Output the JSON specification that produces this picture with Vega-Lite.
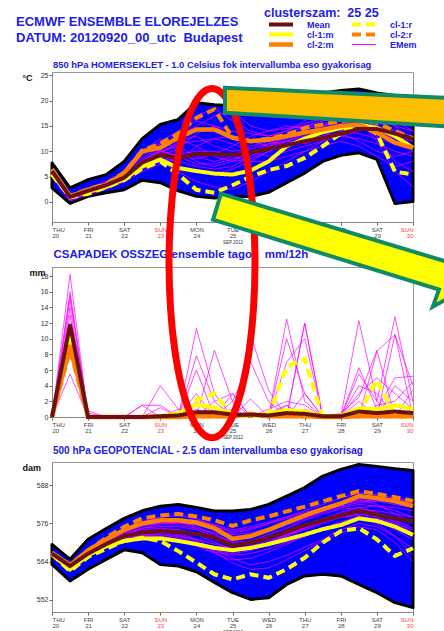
{
  "$schema": "https://vega.github.io/schema/vega-lite/v6.json",
  "padding": {"left": 16, "top": 7, "right": 0, "bottom": 0},
  "background": "white",
  "bounds": "flush",
  "spacing": 45,
  "config": {
    "font": "Liberation Sans",
    "view": {"stroke": "#999", "strokeWidth": 1},
    "axis": {"grid": false, "domainColor": "#888", "tickColor": "#666", "labelColor": "#333", "labelOverlap": false},
    "axisY": {"labelFontSize": 7, "tickSize": 3, "labelPadding": 1, "titleAngle": 0, "titleAlign": "left", "titleBaseline": "top", "titleFontSize": 9, "titleFontWeight": "bold", "titleColor": "#111", "titleX": -30, "titleY": 1},
    "axisX": {"labelFontSize": 6, "tickSize": 3, "labelPadding": 1, "labelLineHeight": 6.5, "titleFontSize": 4.5, "titleFontWeight": "normal", "titleColor": "#333", "titlePadding": 1},
    "title": {"anchor": "start", "color": "#2020e6", "fontWeight": "bold", "font": "Liberation Sans", "frame": "group"}
  },
  "title": {"text": "ECMWF ENSEMBLE ELOREJELZES", "subtitle": "DATUM: 20120920_00_utc\u00a0 Budapest", "anchor": "start", "frame": "group", "dx": -36, "fontSize": 13, "subtitleFontSize": 13, "subtitleColor": "#2020e6", "subtitleFontWeight": "bold", "subtitleFont": "Liberation Sans", "subtitlePadding": 3, "offset": -38},
  "datasets": {
    "d": [
      {"p":"T","t":0,"hi":7.7,"lo":2.8,"Mean":6.1,"cl-1:m":5.5,"cl-2:m":6.4,"cl-1:r":5.4,"cl-2:r":6.5,"m1":6.0,"m2":5.0,"m3":5.5,"m4":6.5,"m5":5.0,"m6":6.0,"m7":5.8,"m8":6.2,"m9":5.2,"m10":6.3,"m11":5.7,"m12":6.1,"m13":5.3,"m14":6.4,"m15":5.6,"m16":5.9},
      {"p":"T","t":0.5,"hi":2.8,"lo":-0.3,"Mean":1.0,"cl-1:m":1.2,"cl-2:m":1.1,"cl-1:r":0.9,"cl-2:r":1.2,"m1":0.8,"m2":0.5,"m3":1.0,"m4":1.3,"m5":0.2,"m6":1.0,"m7":0.7,"m8":1.2,"m9":0.4,"m10":0.9,"m11":0.6,"m12":1.1,"m13":0.5,"m14":1.2,"m15":0.8,"m16":0.9},
      {"p":"T","t":1,"hi":4.4,"lo":1.1,"Mean":2.2,"cl-1:m":2.0,"cl-2:m":2.4,"cl-1:r":1.6,"cl-2:r":2.5,"m1":2.0,"m2":1.8,"m3":2.2,"m4":2.6,"m5":1.5,"m6":2.4,"m7":2.0,"m8":2.8,"m9":1.6,"m10":2.1,"m11":1.9,"m12":2.3,"m13":1.7,"m14":2.5,"m15":2.0,"m16":2.2},
      {"p":"T","t":1.5,"hi":5.4,"lo":1.8,"Mean":3.3,"cl-1:m":3.0,"cl-2:m":3.4,"cl-1:r":2.9,"cl-2:r":3.6,"m1":3.0,"m2":2.8,"m3":3.3,"m4":3.8,"m5":2.5,"m6":3.5,"m7":3.2,"m8":4.0,"m9":2.6,"m10":3.1,"m11":3.0,"m12":3.4,"m13":2.7,"m14":3.7,"m15":3.1,"m16":3.2},
      {"p":"T","t":2,"hi":8.0,"lo":2.4,"Mean":4.8,"cl-1:m":4.5,"cl-2:m":5.7,"cl-1:r":4.3,"cl-2:r":5.8,"m1":5.0,"m2":4.2,"m3":5.0,"m4":5.5,"m5":4.0,"m6":5.2,"m7":4.8,"m8":5.8,"m9":4.0,"m10":4.9,"m11":4.6,"m12":5.1,"m13":4.4,"m14":5.6,"m15":4.7,"m16":4.9},
      {"p":"T","t":2.5,"hi":12.5,"lo":4.3,"Mean":7.8,"cl-1:m":7.0,"cl-2:m":10.0,"cl-1:r":6.6,"cl-2:r":10.2,"m1":8.5,"m2":6.5,"m3":8.0,"m4":9.0,"m5":6.0,"m6":7.5,"m7":7.0,"m8":10.0,"m9":7.0,"m10":8.0,"m11":7.2,"m12":8.2,"m13":6.8,"m14":9.5,"m15":7.5,"m16":7.8},
      {"p":"T","t":3,"hi":15.3,"lo":3.8,"Mean":9.3,"cl-1:m":8.4,"cl-2:m":10.7,"cl-1:r":8.0,"cl-2:r":11.5,"m1":11.0,"m2":8.0,"m3":10.0,"m4":12.0,"m5":7.5,"m6":9.0,"m7":9.5,"m8":12.5,"m9":9.0,"m10":10.5,"m11":9.8,"m12":10.2,"m13":8.5,"m14":11.5,"m15":9.2,"m16":10.0},
      {"p":"T","t":3.5,"hi":16.3,"lo":2.2,"Mean":8.6,"cl-1:m":6.7,"cl-2:m":12.7,"cl-1:r":5.4,"cl-2:r":13.5,"m1":13.0,"m2":6.0,"m3":11.0,"m4":14.0,"m5":7.0,"m6":8.0,"m7":12.0,"m8":10.0,"m9":9.5,"m10":13.0,"m11":11.5,"m12":9.0,"m13":8.0,"m14":12.5,"m15":10.5,"m16":9.0},
      {"p":"T","t":4,"hi":19.6,"lo":1.1,"Mean":9.5,"cl-1:m":6.1,"cl-2:m":14.3,"cl-1:r":2.4,"cl-2:r":16.6,"m1":15.0,"m2":4.0,"m3":9.0,"m4":16.0,"m5":6.0,"m6":7.0,"m7":13.0,"m8":8.0,"m9":10.0,"m10":17.0,"m11":12.0,"m12":8.5,"m13":11.0,"m14":11.0,"m15":13.5,"m16":7.5},
      {"p":"T","t":4.5,"hi":19.2,"lo":0.8,"Mean":9.4,"cl-1:m":5.6,"cl-2:m":14.3,"cl-1:r":1.8,"cl-2:r":18.3,"m1":17.0,"m2":3.0,"m3":8.0,"m4":15.0,"m5":5.5,"m6":6.5,"m7":11.0,"m8":7.0,"m9":10.0,"m10":18.5,"m11":12.5,"m12":9.5,"m13":12.5,"m14":9.0,"m15":15.0,"m16":7.5},
      {"p":"T","t":5,"hi":19.0,"lo":1.1,"Mean":9.3,"cl-1:m":5.4,"cl-2:m":12.7,"cl-1:r":3.3,"cl-2:r":12.7,"m1":18.0,"m2":2.5,"m3":9.0,"m4":13.0,"m5":6.5,"m6":7.0,"m7":10.0,"m8":8.0,"m9":9.0,"m10":16.0,"m11":13.0,"m12":11.0,"m13":11.5,"m14":8.0,"m15":14.0,"m16":8.5},
      {"p":"T","t":5.5,"hi":19.5,"lo":1.1,"Mean":9.8,"cl-1:m":6.2,"cl-2:m":12.0,"cl-1:r":5.0,"cl-2:r":12.0,"m1":15.0,"m2":4.0,"m3":11.0,"m4":12.0,"m5":8.0,"m6":9.0,"m7":10.5,"m8":10.0,"m9":8.0,"m10":14.0,"m11":12.0,"m12":13.0,"m13":10.0,"m14":8.5,"m15":13.5,"m16":9.5},
      {"p":"T","t":6,"hi":20.0,"lo":1.9,"Mean":10.5,"cl-1:m":8.0,"cl-2:m":12.3,"cl-1:r":6.3,"cl-2:r":12.5,"m1":14.0,"m2":6.0,"m3":12.0,"m4":12.5,"m5":10.0,"m6":11.0,"m7":11.5,"m8":9.0,"m9":8.0,"m10":13.0,"m11":11.0,"m12":14.0,"m13":10.5,"m14":10.0,"m15":13.0,"m16":11.5},
      {"p":"T","t":6.5,"hi":20.5,"lo":3.8,"Mean":11.2,"cl-1:m":11.0,"cl-2:m":13.0,"cl-1:r":7.1,"cl-2:r":13.3,"m1":14.5,"m2":8.0,"m3":11.0,"m4":13.0,"m5":11.0,"m6":13.0,"m7":12.5,"m8":10.0,"m9":9.0,"m10":14.0,"m11":12.0,"m12":15.0,"m13":11.5,"m14":12.0,"m15":14.0,"m16":12.0},
      {"p":"T","t":7,"hi":21.0,"lo":5.7,"Mean":12.0,"cl-1:m":12.5,"cl-2:m":13.7,"cl-1:r":8.7,"cl-2:r":14.6,"m1":15.0,"m2":10.0,"m3":12.0,"m4":14.0,"m5":12.5,"m6":15.0,"m7":13.5,"m8":11.0,"m9":10.0,"m10":16.0,"m11":13.5,"m12":14.5,"m13":12.0,"m14":13.0,"m15":15.5,"m16":11.5},
      {"p":"T","t":7.5,"hi":21.5,"lo":8.0,"Mean":12.6,"cl-1:m":13.8,"cl-2:m":14.3,"cl-1:r":11.0,"cl-2:r":15.3,"m1":15.5,"m2":12.0,"m3":14.0,"m4":13.5,"m5":13.0,"m6":16.0,"m7":15.0,"m8":12.0,"m9":11.0,"m10":18.0,"m11":14.5,"m12":15.0,"m13":13.0,"m14":13.5,"m15":16.5,"m16":12.5},
      {"p":"T","t":8,"hi":22.0,"lo":9.2,"Mean":13.5,"cl-1:m":14.6,"cl-2:m":15.0,"cl-1:r":13.5,"cl-2:r":16.0,"m1":16.0,"m2":14.0,"m3":15.0,"m4":14.5,"m5":13.5,"m6":17.0,"m7":16.5,"m8":13.0,"m9":12.0,"m10":19.0,"m11":15.5,"m12":16.0,"m13":14.5,"m14":13.0,"m15":17.5,"m16":14.0},
      {"p":"T","t":8.5,"hi":22.3,"lo":9.7,"Mean":14.4,"cl-1:m":15.3,"cl-2:m":15.3,"cl-1:r":15.5,"cl-2:r":16.2,"m1":17.0,"m2":15.0,"m3":16.0,"m4":15.0,"m5":12.0,"m6":16.0,"m7":18.0,"m8":14.0,"m9":11.0,"m10":20.0,"m11":16.5,"m12":15.0,"m13":15.5,"m14":12.5,"m15":18.5,"m16":13.5},
      {"p":"T","t":9,"hi":21.5,"lo":8.4,"Mean":14.4,"cl-1:m":14.6,"cl-2:m":13.7,"cl-1:r":13.5,"cl-2:r":15.6,"m1":16.5,"m2":13.0,"m3":15.0,"m4":17.0,"m5":10.0,"m6":12.0,"m7":19.0,"m8":15.0,"m9":9.0,"m10":18.0,"m11":17.0,"m12":14.0,"m13":16.0,"m14":11.5,"m15":18.0,"m16":12.5},
      {"p":"T","t":9.5,"hi":21.0,"lo":-0.3,"Mean":13.5,"cl-1:m":13.0,"cl-2:m":11.7,"cl-1:r":6.0,"cl-2:r":14.0,"m1":15.0,"m2":8.0,"m3":13.0,"m4":18.0,"m5":9.0,"m6":6.0,"m7":17.0,"m8":14.0,"m9":7.0,"m10":16.0,"m11":16.0,"m12":12.5,"m13":17.5,"m14":10.0,"m15":15.0,"m16":11.5},
      {"p":"T","t":10,"hi":20.5,"lo":0.1,"Mean":12.4,"cl-1:m":10.7,"cl-2:m":10.7,"cl-1:r":5.4,"cl-2:r":12.5,"m1":14.0,"m2":6.0,"m3":12.0,"m4":16.0,"m5":10.0,"m6":3.0,"m7":15.0,"m8":13.0,"m9":8.0,"m10":14.0,"m11":15.5,"m12":11.0,"m13":17.0,"m14":9.0,"m15":12.0,"m16":10.0},

      {"p":"P","t":0,"Mean":0,"cl-1:m":0,"cl-2:m":0,"cl-1:r":0,"cl-2:r":0,"m1":0,"m2":0,"m3":0,"m4":0,"m5":0,"m6":0,"m7":0,"m8":0,"m9":0,"m10":0},
      {"p":"P","t":0.5,"Mean":11.8,"cl-1:m":11.0,"cl-2:m":9.2,"cl-1:r":10.5,"cl-2:r":8.5,"m1":18.2,"m2":16.0,"m3":15.0,"m4":14.0,"m5":12.0,"m6":10.0,"m7":8.0,"m8":5.5,"m9":13.0,"m10":15.5},
      {"p":"P","t":1,"Mean":0,"cl-1:m":0,"cl-2:m":0,"cl-1:r":0,"cl-2:r":0,"m1":0,"m2":0,"m3":0.8,"m4":0,"m5":0,"m6":0.5,"m7":0,"m8":0,"m9":0,"m10":0},
      {"p":"P","t":1.5,"Mean":0,"cl-1:m":0,"cl-2:m":0,"cl-1:r":0,"cl-2:r":0,"m1":0,"m2":0,"m3":0,"m4":0,"m5":0,"m6":0,"m7":0,"m8":0,"m9":0,"m10":0},
      {"p":"P","t":2,"Mean":0,"cl-1:m":0,"cl-2:m":0,"cl-1:r":0,"cl-2:r":0,"m1":0,"m2":0,"m3":0,"m4":0,"m5":0,"m6":0,"m7":0,"m8":0,"m9":0,"m10":0},
      {"p":"P","t":2.5,"Mean":0,"cl-1:m":0,"cl-2:m":0,"cl-1:r":0,"cl-2:r":0,"m1":0,"m2":0,"m3":0,"m4":1.5,"m5":0,"m6":0,"m7":0,"m8":0,"m9":1.5,"m10":0},
      {"p":"P","t":3,"Mean":0.1,"cl-1:m":0.1,"cl-2:m":0,"cl-1:r":0,"cl-2:r":0,"m1":0,"m2":0,"m3":4.0,"m4":1.5,"m5":0,"m6":1.2,"m7":0,"m8":0,"m9":0,"m10":0},
      {"p":"P","t":3.5,"Mean":0.2,"cl-1:m":0.5,"cl-2:m":0,"cl-1:r":0.3,"cl-2:r":0,"m1":0,"m2":0,"m3":1.0,"m4":0,"m5":0,"m6":0,"m7":0,"m8":1.0,"m9":0,"m10":0},
      {"p":"P","t":4,"Mean":0.6,"cl-1:m":1.6,"cl-2:m":0.1,"cl-1:r":2.2,"cl-2:r":0.1,"m1":11.3,"m2":7.8,"m3":0,"m4":2.0,"m5":1.0,"m6":3.0,"m7":0,"m8":0.5,"m9":0,"m10":6.0},
      {"p":"P","t":4.5,"Mean":0.6,"cl-1:m":1.2,"cl-2:m":0.1,"cl-1:r":3.0,"cl-2:r":0.1,"m1":3.0,"m2":2.0,"m3":8.5,"m4":0,"m5":0,"m6":0,"m7":2.0,"m8":0,"m9":0,"m10":0},
      {"p":"P","t":5,"Mean":0.3,"cl-1:m":0.3,"cl-2:m":0.1,"cl-1:r":0.2,"cl-2:r":0.1,"m1":0,"m2":0,"m3":2.0,"m4":3.0,"m5":2.0,"m6":0,"m7":3.0,"m8":0.5,"m9":0,"m10":1.0},
      {"p":"P","t":5.5,"Mean":0.3,"cl-1:m":0.2,"cl-2:m":0.4,"cl-1:r":0.1,"cl-2:r":0.3,"m1":0,"m2":10.5,"m3":0,"m4":0,"m5":7.0,"m6":0,"m7":0,"m8":0,"m9":2.3,"m10":0},
      {"p":"P","t":6,"Mean":0.2,"cl-1:m":0.4,"cl-2:m":0.1,"cl-1:r":0.2,"cl-2:r":0.1,"m1":0,"m2":3.4,"m3":0,"m4":0,"m5":2.0,"m6":1.0,"m7":0.5,"m8":0,"m9":0,"m10":0},
      {"p":"P","t":6.5,"Mean":0.5,"cl-1:m":0.9,"cl-2:m":0.1,"cl-1:r":6.4,"cl-2:r":0.1,"m1":12.5,"m2":0,"m3":10.0,"m4":7.0,"m5":0,"m6":2.0,"m7":1.5,"m8":0,"m9":1.5,"m10":0},
      {"p":"P","t":7,"Mean":0.4,"cl-1:m":0.7,"cl-2:m":0.1,"cl-1:r":7.4,"cl-2:r":0.1,"m1":2.0,"m2":12.0,"m3":3.0,"m4":10.0,"m5":3.0,"m6":1.5,"m7":0,"m8":1.0,"m9":0,"m10":12.0},
      {"p":"P","t":7.5,"Mean":0.1,"cl-1:m":0.1,"cl-2:m":0,"cl-1:r":0,"cl-2:r":0,"m1":0,"m2":0,"m3":0,"m4":0,"m5":0,"m6":0,"m7":0,"m8":0,"m9":0,"m10":0},
      {"p":"P","t":8,"Mean":0.1,"cl-1:m":0.2,"cl-2:m":0,"cl-1:r":0,"cl-2:r":0,"m1":0,"m2":0,"m3":0,"m4":0,"m5":0,"m6":0,"m7":0,"m8":0,"m9":0.5,"m10":0},
      {"p":"P","t":8.5,"Mean":0.7,"cl-1:m":1.1,"cl-2:m":0.1,"cl-1:r":0.5,"cl-2:r":0.1,"m1":12.3,"m2":0,"m3":6.3,"m4":4.0,"m5":3.0,"m6":2.0,"m7":5.5,"m8":0,"m9":2.5,"m10":0},
      {"p":"P","t":9,"Mean":0.5,"cl-1:m":1.0,"cl-2:m":0.1,"cl-1:r":4.7,"cl-2:r":0.1,"m1":2.0,"m2":8.4,"m3":1.0,"m4":3.0,"m5":5.0,"m6":0,"m7":2.0,"m8":1.5,"m9":8.5,"m10":0},
      {"p":"P","t":9.5,"Mean":0.7,"cl-1:m":1.5,"cl-2:m":0.1,"cl-1:r":0,"cl-2:r":0.1,"m1":12.8,"m2":10.5,"m3":5.0,"m4":0,"m5":3.0,"m6":4.0,"m7":0,"m8":2.0,"m9":0,"m10":10.5},
      {"p":"P","t":10,"Mean":0.5,"cl-1:m":1.0,"cl-2:m":0.1,"cl-1:r":0,"cl-2:r":0.1,"m1":2.0,"m2":4.0,"m3":5.2,"m4":3.5,"m5":1.0,"m6":2.0,"m7":1.0,"m8":4.5,"m9":0,"m10":0},

      {"p":"G","t":0,"hi":569.4,"lo":563.1,"Mean":566.5,"cl-1:m":566.3,"cl-2:m":566.7,"cl-1:r":566.3,"cl-2:r":566.7,"m1":567.0,"m2":566.0,"m3":567.0,"m4":566.5,"m5":566.0,"m6":567.0,"m7":566.5,"m8":566.0,"m9":566.8,"m10":567.2,"m11":566.8,"m12":566.2,"m13":567.1,"m14":566.4,"m15":566.9,"m16":566.3},
      {"p":"G","t":0.5,"hi":564.7,"lo":557.9,"Mean":562.6,"cl-1:m":561.5,"cl-2:m":562.8,"cl-1:r":561.0,"cl-2:r":563.0,"m1":563.0,"m2":562.0,"m3":563.0,"m4":562.5,"m5":562.0,"m6":563.0,"m7":562.5,"m8":562.0,"m9":562.8,"m10":563.2,"m11":562.6,"m12":562.2,"m13":563.1,"m14":562.4,"m15":562.9,"m16":562.3},
      {"p":"G","t":1,"hi":571.0,"lo":561.6,"Mean":566.5,"cl-1:m":566.0,"cl-2:m":567.5,"cl-1:r":565.5,"cl-2:r":567.5,"m1":567.0,"m2":566.0,"m3":567.0,"m4":566.5,"m5":566.0,"m6":567.5,"m7":566.5,"m8":566.0,"m9":567.0,"m10":567.8,"m11":566.8,"m12":566.2,"m13":567.6,"m14":566.4,"m15":567.2,"m16":566.3},
      {"p":"G","t":1.5,"hi":574.4,"lo":564.7,"Mean":569.5,"cl-1:m":568.8,"cl-2:m":571.0,"cl-1:r":568.0,"cl-2:r":571.5,"m1":571.0,"m2":569.0,"m3":570.0,"m4":569.5,"m5":569.0,"m6":570.5,"m7":569.5,"m8":568.5,"m9":570.0,"m10":571.0,"m11":569.8,"m12":569.2,"m13":570.8,"m14":569.4,"m15":570.3,"m16":569.0},
      {"p":"G","t":2,"hi":577.6,"lo":567.7,"Mean":572.0,"cl-1:m":570.5,"cl-2:m":574.0,"cl-1:r":570.5,"cl-2:r":575.0,"m1":574.0,"m2":571.5,"m3":573.0,"m4":572.0,"m5":571.0,"m6":573.5,"m7":572.0,"m8":570.5,"m9":572.5,"m10":574.0,"m11":572.5,"m12":571.2,"m13":573.8,"m14":571.8,"m15":573.3,"m16":571.0},
      {"p":"G","t":2.5,"hi":580.0,"lo":566.8,"Mean":573.2,"cl-1:m":571.3,"cl-2:m":576.0,"cl-1:r":571.5,"cl-2:r":577.6,"m1":576.5,"m2":573.0,"m3":574.5,"m4":573.5,"m5":572.0,"m6":575.5,"m7":573.5,"m8":571.5,"m9":574.0,"m10":576.0,"m11":574.5,"m12":572.5,"m13":575.8,"m14":573.2,"m15":575.2,"m16":572.2},
      {"p":"G","t":3,"hi":581.4,"lo":563.1,"Mean":573.6,"cl-1:m":571.3,"cl-2:m":577.0,"cl-1:r":570.5,"cl-2:r":578.5,"m1":578.0,"m2":573.0,"m3":575.0,"m4":574.0,"m5":572.0,"m6":576.0,"m7":574.0,"m8":571.5,"m9":574.5,"m10":577.0,"m11":575.5,"m12":572.5,"m13":576.5,"m14":573.5,"m15":576.0,"m16":572.0},
      {"p":"G","t":3.5,"hi":582.0,"lo":562.6,"Mean":573.3,"cl-1:m":570.5,"cl-2:m":577.0,"cl-1:r":567.3,"cl-2:r":579.0,"m1":578.5,"m2":572.0,"m3":575.0,"m4":573.0,"m5":571.0,"m6":576.0,"m7":574.0,"m8":570.5,"m9":574.0,"m10":577.5,"m11":575.5,"m12":571.5,"m13":576.5,"m14":572.5,"m15":576.2,"m16":571.0},
      {"p":"G","t":4,"hi":581.0,"lo":560.8,"Mean":572.8,"cl-1:m":569.5,"cl-2:m":576.3,"cl-1:r":563.7,"cl-2:r":578.2,"m1":577.5,"m2":571.0,"m3":574.0,"m4":571.0,"m5":569.5,"m6":575.5,"m7":573.0,"m8":569.0,"m9":572.5,"m10":577.0,"m11":574.5,"m12":570.0,"m13":575.0,"m14":570.5,"m15":575.8,"m16":569.0},
      {"p":"G","t":4.5,"hi":579.9,"lo":557.4,"Mean":571.5,"cl-1:m":568.3,"cl-2:m":574.5,"cl-1:r":560.0,"cl-2:r":577.0,"m1":575.5,"m2":569.5,"m3":572.0,"m4":568.0,"m5":567.5,"m6":574.0,"m7":571.0,"m8":567.0,"m9":570.0,"m10":575.5,"m11":573.0,"m12":568.5,"m13":572.5,"m14":567.0,"m15":574.8,"m16":566.5},
      {"p":"G","t":5,"hi":579.9,"lo":554.2,"Mean":569.0,"cl-1:m":567.6,"cl-2:m":571.2,"cl-1:r":558.4,"cl-2:r":575.2,"m1":573.0,"m2":568.0,"m3":570.5,"m4":565.0,"m5":566.5,"m6":572.5,"m7":569.5,"m8":566.0,"m9":568.0,"m10":574.0,"m11":571.5,"m12":567.0,"m13":570.0,"m14":563.5,"m15":573.5,"m16":564.5},
      {"p":"G","t":5.5,"hi":580.4,"lo":552.1,"Mean":570.0,"cl-1:m":568.3,"cl-2:m":572.0,"cl-1:r":560.0,"cl-2:r":577.0,"m1":574.0,"m2":569.0,"m3":571.5,"m4":563.0,"m5":567.5,"m6":573.0,"m7":570.0,"m8":566.5,"m9":568.5,"m10":575.0,"m11":572.5,"m12":568.0,"m13":570.5,"m14":561.5,"m15":574.5,"m16":565.0},
      {"p":"G","t":6,"hi":582.0,"lo":552.6,"Mean":571.5,"cl-1:m":569.5,"cl-2:m":574.0,"cl-1:r":558.9,"cl-2:r":578.2,"m1":576.0,"m2":570.5,"m3":573.5,"m4":564.0,"m5":569.5,"m6":574.5,"m7":571.5,"m8":568.0,"m9":570.0,"m10":576.5,"m11":574.0,"m12":570.0,"m13":572.5,"m14":562.0,"m15":576.0,"m16":567.0},
      {"p":"G","t":6.5,"hi":584.6,"lo":556.8,"Mean":573.5,"cl-1:m":571.0,"cl-2:m":576.3,"cl-1:r":561.6,"cl-2:r":579.8,"m1":578.0,"m2":572.5,"m3":575.5,"m4":566.0,"m5":572.0,"m6":576.5,"m7":573.5,"m8":570.0,"m9":572.0,"m10":578.0,"m11":576.0,"m12":572.5,"m13":574.5,"m14":564.5,"m15":577.5,"m16":569.5},
      {"p":"G","t":7,"hi":587.3,"lo":559.5,"Mean":575.5,"cl-1:m":572.5,"cl-2:m":578.5,"cl-1:r":565.2,"cl-2:r":581.3,"m1":580.0,"m2":574.5,"m3":577.5,"m4":568.5,"m5":574.5,"m6":578.5,"m7":575.5,"m8":572.0,"m9":574.0,"m10":579.5,"m11":578.0,"m12":575.0,"m13":577.0,"m14":567.5,"m15":579.0,"m16":572.0},
      {"p":"G","t":7.5,"hi":590.9,"lo":560.0,"Mean":577.0,"cl-1:m":574.2,"cl-2:m":580.5,"cl-1:r":570.0,"cl-2:r":583.0,"m1":582.0,"m2":576.5,"m3":579.5,"m4":571.0,"m5":577.0,"m6":580.0,"m7":577.0,"m8":574.0,"m9":576.0,"m10":581.0,"m11":580.0,"m12":577.5,"m13":579.0,"m14":570.5,"m15":580.5,"m16":574.5},
      {"p":"G","t":8,"hi":593.0,"lo":559.5,"Mean":578.5,"cl-1:m":575.5,"cl-2:m":582.3,"cl-1:r":573.6,"cl-2:r":584.6,"m1":584.0,"m2":578.0,"m3":581.0,"m4":574.0,"m5":579.0,"m6":581.5,"m7":578.0,"m8":576.0,"m9":578.0,"m10":582.5,"m11":582.0,"m12":579.5,"m13":580.5,"m14":573.0,"m15":582.0,"m16":576.5},
      {"p":"G","t":8.5,"hi":594.6,"lo":556.8,"Mean":580.0,"cl-1:m":577.6,"cl-2:m":584.6,"cl-1:r":574.5,"cl-2:r":586.2,"m1":585.5,"m2":579.0,"m3":582.0,"m4":576.0,"m5":580.5,"m6":582.5,"m7":578.5,"m8":577.5,"m9":579.5,"m10":583.5,"m11":583.5,"m12":581.0,"m13":581.0,"m14":575.0,"m15":583.0,"m16":578.0},
      {"p":"G","t":9,"hi":593.9,"lo":554.2,"Mean":578.8,"cl-1:m":576.8,"cl-2:m":584.0,"cl-1:r":571.0,"cl-2:r":585.3,"m1":585.0,"m2":578.0,"m3":581.5,"m4":575.0,"m5":580.0,"m6":583.0,"m7":577.0,"m8":576.0,"m9":579.0,"m10":582.0,"m11":583.0,"m12":581.5,"m13":579.5,"m14":574.0,"m15":583.5,"m16":577.5},
      {"p":"G","t":9.5,"hi":593.2,"lo":551.1,"Mean":577.6,"cl-1:m":575.0,"cl-2:m":583.0,"cl-1:r":565.8,"cl-2:r":584.3,"m1":584.0,"m2":576.0,"m3":580.0,"m4":572.0,"m5":579.0,"m6":583.0,"m7":574.0,"m8":572.0,"m9":576.5,"m10":579.0,"m11":582.0,"m12":581.0,"m13":577.0,"m14":570.0,"m15":583.5,"m16":575.5},
      {"p":"G","t":10,"hi":592.7,"lo":549.5,"Mean":576.7,"cl-1:m":572.4,"cl-2:m":581.5,"cl-1:r":568.2,"cl-2:r":583.1,"m1":583.0,"m2":574.0,"m3":578.0,"m4":568.0,"m5":578.0,"m6":582.5,"m7":571.0,"m8":566.0,"m9":573.0,"m10":576.0,"m11":581.0,"m12":580.0,"m13":574.5,"m14":564.0,"m15":583.0,"m16":572.0}
    ],
    "ell": [
      {"i":0,"ax":5.623,"ay":19.66},{"i":1,"ax":5.582,"ay":25.43},{"i":2,"ax":5.463,"ay":30.80},{"i":3,"ax":5.274,"ay":35.41},
      {"i":4,"ax":5.028,"ay":38.96},{"i":5,"ax":4.740,"ay":41.20},{"i":6,"ax":4.432,"ay":41.95},{"i":7,"ax":4.125,"ay":41.20},
      {"i":8,"ax":3.837,"ay":38.96},{"i":9,"ax":3.590,"ay":35.41},{"i":10,"ax":3.402,"ay":30.80},{"i":11,"ax":3.283,"ay":25.43},
      {"i":12,"ax":3.241,"ay":19.66},{"i":13,"ax":3.283,"ay":13.89},{"i":14,"ax":3.402,"ay":8.51},{"i":15,"ax":3.590,"ay":3.90},
      {"i":16,"ax":3.837,"ay":0.36},{"i":17,"ax":4.125,"ay":-1.89},{"i":18,"ax":4.432,"ay":-2.64},{"i":19,"ax":4.740,"ay":-1.89},
      {"i":20,"ax":5.028,"ay":0.36},{"i":21,"ax":5.274,"ay":3.90},{"i":22,"ax":5.463,"ay":8.51},{"i":23,"ax":5.582,"ay":13.89}
    ],
    "orect": [
      {"i":0,"ax":4.792,"ay":42.03},{"i":1,"ax":11.58,"ay":40.62},{"i":2,"ax":11.58,"ay":36.93},{"i":3,"ax":4.792,"ay":38.84}
    ],
    "yarr": [
      {"i":0,"ax":4.681,"ay":28.51},{"i":1,"ax":11.30,"ay":19.32},{"i":2,"ax":11.30,"ay":16.01},{"i":3,"ax":10.55,"ay":14.09},{"i":4,"ax":10.72,"ay":16.26},{"i":5,"ax":4.46,"ay":25.19}
    ]
  },
  "vconcat": [
    {
      "width": 361, "height": 150,
      "title": {"text": "850 hPa HOMERSEKLET - 1.0 Celsius fok intervallumba eso gyakorisag", "fontSize": 9.4, "offset": 1, "dx": 1, "frame": "group"},
      "data": {"name": "d"},
      "transform": [{"filter": "datum.p == 'T'"}],
      "resolve": {"axis": {"x": "independent", "y": "independent"}},
      "layer": [
        {
          "mark": {"type": "area", "fill": "#0000ff", "stroke": "#000000", "strokeWidth": 3, "strokeJoin": "round"},
          "encoding": {
            "x": {"field": "t", "type": "quantitative", "scale": {"domain": [0, 10], "nice": false, "zero": false},
                  "axis": {"values": [0,1,2,3,4,5,6,7,8,9,10], "title": "SEP 2012", "labelOverlap": false,
                           "labelExpr": "[['THU','FRI','SAT','SUN','MON','TUE','WED','THU','FRI','SAT','SUN'][datum.value], '' + (20 + datum.value)]",
                           "labelColor": {"condition": {"test": "datum.value == 3 || datum.value == 10", "value": "#ff3b3b"}, "value": "#444444"}}},
            "y": {"field": "hi", "type": "quantitative", "scale": {"domain": [-3.96, 25.66], "nice": false, "zero": false},
                  "axis": {"values": [0, 5, 10, 15, 20, 25], "title": "°C", "labelOverlap": false}},
            "y2": {"field": "lo"}
          }
        },
        {
          "transform": [{"fold": ["m1","m2","m3","m4","m5","m6","m7","m8","m9","m10","m11","m12","m13","m14","m15","m16"], "as": ["mid", "mv"]}],
          "mark": {"type": "line", "color": "#ff00ff", "strokeWidth": 0.7},
          "encoding": {
            "x": {"field": "t", "type": "quantitative", "axis": null},
            "y": {"field": "mv", "type": "quantitative", "axis": null},
            "detail": {"field": "mid"}
          }
        },
        {
          "transform": [{"fold": ["cl-1:r","cl-2:r","cl-1:m","cl-2:m","Mean"], "as": ["s", "v"]}],
          "mark": {"type": "line"},
          "encoding": {
            "x": {"field": "t", "type": "quantitative", "axis": null},
            "y": {"field": "v", "type": "quantitative", "axis": null},
            "color": {"field": "s", "type": "nominal",
                      "scale": {"domain": ["Mean","cl-1:m","cl-2:m","cl-1:r","cl-2:r","EMem"], "range": ["#6b1111","#ffff00","#ff8000","#ffff00","#ff8000","#ff00ff"]},
                      "legend": {"title": "clusterszam:\u00a0 25 25", "orient": "none", "legendX": 212, "legendY": -65, "columns": 2, "symbolType": "M0,0H9.6", "symbolSize": 25, "clipHeight": 10, "labelOffset": 33, "columnPadding": 13, "rowPadding": 0, "labelFontSize": 9, "labelFontWeight": "bold", "labelColor": "#2020e6", "titleFontSize": 12.5, "titleColor": "#2020e6", "titleFontWeight": "bold", "titlePadding": 0, "titleLimit": 300, "titleAnchor": "start"}},
            "strokeDash": {"field": "s", "type": "nominal",
                           "scale": {"domain": ["Mean","cl-1:m","cl-2:m","cl-1:r","cl-2:r","EMem"], "range": [[1,0],[1,0],[1,0],[9,5],[9,5],[1,0]]}},
            "strokeWidth": {"field": "s", "type": "nominal",
                            "scale": {"type": "ordinal", "domain": ["Mean","cl-1:m","cl-2:m","cl-1:r","cl-2:r","EMem"], "range": [4, 4, 4.5, 4, 4, 1]}}
          }
        }
      ]
    },
    {
      "width": 361, "height": 150,
      "resolve": {"axis": {"x": "independent", "y": "independent"}},
      "layer": [
        {
          "data": {"name": "d"},
          "transform": [{"filter": "datum.p == 'P'"}, {"fold": ["m1","m2","m3","m4","m5","m6","m7","m8","m9","m10"], "as": ["mid", "mv"]}],
          "mark": {"type": "line", "color": "#ff00ff", "strokeWidth": 0.7},
          "encoding": {
            "x": {"field": "t", "type": "quantitative", "scale": {"domain": [0, 10], "nice": false, "zero": false},
                  "axis": {"values": [0,1,2,3,4,5,6,7,8,9,10], "title": "SEP 2012", "labelOverlap": false,
                           "labelExpr": "[['THU','FRI','SAT','SUN','MON','TUE','WED','THU','FRI','SAT','SUN'][datum.value], '' + (20 + datum.value)]",
                           "labelColor": {"condition": {"test": "datum.value == 3 || datum.value == 10", "value": "#ff3b3b"}, "value": "#444444"}}},
            "y": {"field": "mv", "type": "quantitative", "scale": {"domain": [0, 19.15], "nice": false, "zero": false},
                  "axis": {"values": [0,2,4,6,8,10,12,14,16,18], "title": "mm", "titleX": -23, "titleY": 1, "labelOverlap": false}},
            "detail": {"field": "mid"}
          }
        },
        {
          "data": {"name": "d"},
          "transform": [{"filter": "datum.p == 'P'"}, {"fold": ["cl-1:r","cl-2:r","cl-1:m","cl-2:m","Mean"], "as": ["s", "v"]}],
          "mark": {"type": "line"},
          "encoding": {
            "x": {"field": "t", "type": "quantitative",
                  "axis": {"orient": "top", "labels": false, "ticks": false, "domain": false, "title": "CSAPADEK OSSZEG ensemble tagok\u00a0 mm/12h", "titleAnchor": "start", "titleAlign": "left", "titleFontSize": 11.5, "titleFontWeight": "bold", "titleColor": "#2020e6", "titlePadding": 8, "titleX": 1}},
            "y": {"field": "v", "type": "quantitative", "axis": null},
            "color": {"field": "s", "type": "nominal",
                      "scale": {"domain": ["Mean","cl-1:m","cl-2:m","cl-1:r","cl-2:r","EMem"], "range": ["#6b1111","#ffff00","#ff8000","#ffff00","#ff8000","#ff00ff"]}},
            "strokeDash": {"field": "s", "type": "nominal",
                           "scale": {"domain": ["Mean","cl-1:m","cl-2:m","cl-1:r","cl-2:r","EMem"], "range": [[1,0],[1,0],[1,0],[9,5],[9,5],[1,0]]}},
            "strokeWidth": {"field": "s", "type": "nominal",
                            "scale": {"type": "ordinal", "domain": ["Mean","cl-1:m","cl-2:m","cl-1:r","cl-2:r","EMem"], "range": [4, 4, 4.5, 4, 4, 1]}}
          }
        },
        {
          "data": {"name": "ell"},
          "mark": {"type": "line", "interpolate": "cardinal-closed", "stroke": "#ff0000", "strokeWidth": 7, "clip": false},
          "encoding": {
            "x": {"field": "ax", "type": "quantitative", "axis": null},
            "y": {"field": "ay", "type": "quantitative", "axis": null},
            "order": {"field": "i"}
          }
        },
        {
          "data": {"name": "orect"},
          "mark": {"type": "line", "interpolate": "linear-closed", "fill": "#fcbf00", "stroke": "#118a68", "strokeWidth": 4, "clip": false},
          "encoding": {
            "x": {"field": "ax", "type": "quantitative", "axis": null},
            "y": {"field": "ay", "type": "quantitative", "axis": null},
            "order": {"field": "i"}
          }
        },
        {
          "data": {"name": "yarr"},
          "mark": {"type": "line", "interpolate": "linear-closed", "fill": "#ffff00", "stroke": "#118a68", "strokeWidth": 4, "clip": false},
          "encoding": {
            "x": {"field": "ax", "type": "quantitative", "axis": null},
            "y": {"field": "ay", "type": "quantitative", "axis": null},
            "order": {"field": "i"}
          }
        }
      ]
    },
    {
      "width": 361, "height": 150,
      "title": {"text": "500 hPa GEOPOTENCIAL - 2.5 dam intervallumba eso gyakorisag", "fontSize": 10, "offset": 6, "dx": 1, "frame": "group"},
      "data": {"name": "d"},
      "transform": [{"filter": "datum.p == 'G'"}],
      "resolve": {"axis": {"x": "independent", "y": "independent"}},
      "layer": [
        {
          "mark": {"type": "area", "fill": "#0000ff", "stroke": "#000000", "strokeWidth": 3, "strokeJoin": "round"},
          "encoding": {
            "x": {"field": "t", "type": "quantitative", "scale": {"domain": [0, 10], "nice": false, "zero": false},
                  "axis": {"values": [0,1,2,3,4,5,6,7,8,9,10], "title": "SEP 2012", "labelOverlap": false,
                           "labelExpr": "[['THU','FRI','SAT','SUN','MON','TUE','WED','THU','FRI','SAT','SUN'][datum.value], '' + (20 + datum.value)]",
                           "labelColor": {"condition": {"test": "datum.value == 3 || datum.value == 10", "value": "#ff3b3b"}, "value": "#444444"}}},
            "y": {"field": "hi", "type": "quantitative", "scale": {"domain": [548.13, 595.35], "nice": false, "zero": false},
                  "axis": {"values": [552, 564, 576, 588], "title": "dam", "labelOverlap": false}},
            "y2": {"field": "lo"}
          }
        },
        {
          "transform": [{"fold": ["m1","m2","m3","m4","m5","m6","m7","m8","m9","m10","m11","m12","m13","m14","m15","m16"], "as": ["mid", "mv"]}],
          "mark": {"type": "line", "color": "#ff00ff", "strokeWidth": 0.7},
          "encoding": {
            "x": {"field": "t", "type": "quantitative", "axis": null},
            "y": {"field": "mv", "type": "quantitative", "axis": null},
            "detail": {"field": "mid"}
          }
        },
        {
          "transform": [{"fold": ["cl-1:r","cl-2:r","cl-1:m","cl-2:m","Mean"], "as": ["s", "v"]}],
          "mark": {"type": "line"},
          "encoding": {
            "x": {"field": "t", "type": "quantitative", "axis": null},
            "y": {"field": "v", "type": "quantitative", "axis": null},
            "color": {"field": "s", "type": "nominal",
                      "scale": {"domain": ["Mean","cl-1:m","cl-2:m","cl-1:r","cl-2:r","EMem"], "range": ["#6b1111","#ffff00","#ff8000","#ffff00","#ff8000","#ff00ff"]}},
            "strokeDash": {"field": "s", "type": "nominal",
                           "scale": {"domain": ["Mean","cl-1:m","cl-2:m","cl-1:r","cl-2:r","EMem"], "range": [[1,0],[1,0],[1,0],[9,5],[9,5],[1,0]]}},
            "strokeWidth": {"field": "s", "type": "nominal",
                            "scale": {"type": "ordinal", "domain": ["Mean","cl-1:m","cl-2:m","cl-1:r","cl-2:r","EMem"], "range": [4, 4, 4.5, 4, 4, 1]}}
          }
        }
      ]
    }
  ]
}
